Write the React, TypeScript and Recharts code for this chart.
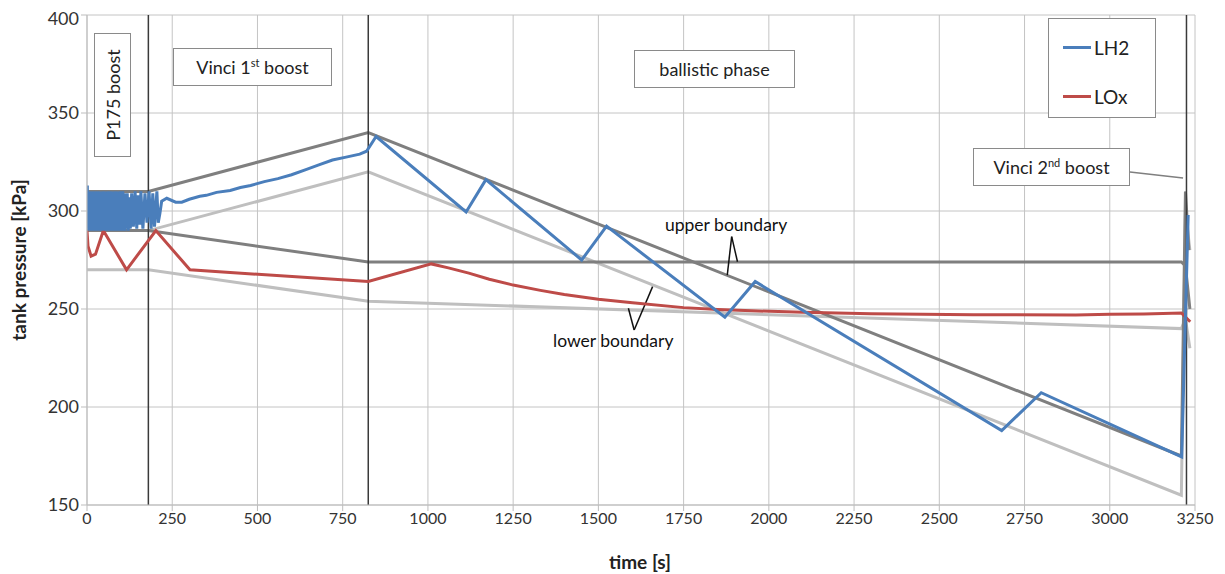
import React from "react";
import { LineChart, Line, XAxis, YAxis, CartesianGrid, ReferenceLine } from "recharts";

const xTicks = [0, 250, 500, 750, 1000, 1250, 1500, 1750, 2000, 2250, 2500, 2750, 3000, 3250];
const yTicks = [150, 200, 250, 300, 350, 400];

// [time s, pressure kPa]
const lh2 = [
  [0, 301], [1, 313], [2, 291], [4, 309], [5, 290], [7, 310], [8, 291], [10, 309], [11, 290],
  [13, 310], [14, 291], [16, 309], [17, 290], [19, 310], [20, 291], [22, 308], [23, 290], [25, 310],
  [26, 291], [28, 309], [29, 290], [31, 310], [32, 291], [34, 309], [35, 290], [37, 310], [38, 292],
  [40, 309], [41, 290], [43, 309], [44, 291], [46, 310], [47, 290], [49, 309], [50, 292], [52, 310],
  [53, 290], [55, 308], [56, 291], [58, 309], [59, 290], [61, 310], [62, 291], [64, 309], [65, 290],
  [67, 310], [68, 291], [70, 309], [71, 290], [73, 310], [74, 292], [76, 309], [77, 290], [79, 309],
  [80, 291], [82, 310], [83, 290], [85, 309], [86, 292], [88, 310], [89, 290], [91, 308], [92, 291],
  [94, 309], [95, 290], [97, 310], [99, 291], [101, 309], [103, 290], [105, 310], [107, 292],
  [109, 309], [111, 290], [113, 308], [115, 291], [118, 309], [121, 290], [124, 307], [127, 291],
  [131, 309], [136, 292], [141, 310], [146, 291], [150, 308], [155, 293], [158, 310], [164, 291],
  [170, 309], [176, 294], [182, 310], [188, 291], [193, 309], [198, 292], [205, 310], [209, 294],
  [214, 299], [219, 305], [234, 306.5], [260, 304.5], [278, 304.5], [300, 306], [331, 307.5],
  [350, 308], [380, 309.5], [420, 310.5], [450, 312], [480, 313], [520, 315], [560, 316.5],
  [600, 318.5], [640, 321], [680, 323.5], [720, 326], [760, 327.5], [800, 329], [820, 330.5],
  [848, 338], [1112, 299.5], [1170, 316], [1451, 275], [1524, 292.3], [1871, 245.8], [1960, 264],
  [2683, 188], [2799, 207.3], [3211, 174.5], [3230, 298],
];

const lox = [
  [0, 290], [3, 282], [12, 277], [25, 278], [48, 290], [116, 270], [202, 290], [302, 270],
  [825, 264], [1010, 273], [1060, 271], [1120, 268.3], [1180, 265.2], [1250, 262.2], [1330, 259.5],
  [1400, 257.4], [1500, 255], [1600, 253.2], [1750, 250.7], [1850, 249.8], [1950, 249.1],
  [2100, 248.3], [2300, 247.6], [2600, 247.1], [2900, 247], [3000, 247.3], [3100, 247.5],
  [3210, 248], [3236, 243.5],
];

const upperLh2 = [[0, 310], [180, 310], [825, 340], [3210, 175], [3222, 310], [3232, 280]];
const lowerLh2 = [[0, 290], [180, 290], [825, 320], [3210, 155], [3222, 300], [3235, 280]];
const upperLox = [[0, 290], [180, 290], [825, 274], [3210, 274], [3222, 272], [3235, 250]];
const lowerLox = [[0, 270], [180, 270], [825, 254], [3210, 240], [3222, 245], [3235, 230]];

const phaseLines = [180, 825, 3225];

// annotation leader segments [[t1,p1],[t2,p2]]
const leaders = [
  [[1891, 286.9], [1878, 267.3]],
  [[1891, 286.9], [1908, 274.1]],
  [[1605, 239.3], [1588, 250.4]],
  [[1605, 239.3], [1659, 261.4]],
  [[3059, 319.9], [3215, 316.8]],
];

const pts = (a: number[][]) => a.map(([t, p]) => ({ t, p }));

const FONT = "Lato, 'Open Sans', sans-serif";

const Box = ({ style, children }: { style: React.CSSProperties; children: React.ReactNode }) => (
  <div
    style={{
      position: "absolute",
      background: "#fff",
      border: "1px solid #8a8a8a",
      display: "flex",
      alignItems: "center",
      justifyContent: "center",
      fontSize: 18,
      color: "#222",
      boxSizing: "border-box",
      ...style,
    }}
  >
    {children}
  </div>
);

export default function App() {
  return (
    <div style={{ position: "relative", width: 1217, height: 566, fontFamily: FONT, background: "#fff" }}>
      <LineChart width={1217} height={566} margin={{ top: 7, right: 30, left: 19, bottom: 29 }}>
        <CartesianGrid stroke="#c4c4c4" />
        <XAxis
          dataKey="t"
          type="number"
          domain={[0, 3250]}
          ticks={xTicks}
          height={40}
          stroke="#bdbdbd"
          tick={{ fill: "#333", fontSize: 16, fontFamily: FONT }}
          tickSize={6}
          allowDataOverflow
        />
        <YAxis
          dataKey="p"
          type="number"
          domain={[150, 400]}
          ticks={yTicks}
          width={60}
          stroke="#bdbdbd"
          tick={{ fill: "#333", fontSize: 18, fontFamily: FONT }}
          tickSize={6}
          allowDataOverflow
        />
        <Line data={pts(lowerLh2)} dataKey="p" stroke="#bfbfbf" strokeWidth={3} dot={false} isAnimationActive={false} />
        <Line data={pts(lowerLox)} dataKey="p" stroke="#bfbfbf" strokeWidth={3} dot={false} isAnimationActive={false} />
        <Line data={pts(upperLh2)} dataKey="p" stroke="#7f7f7f" strokeWidth={3} dot={false} isAnimationActive={false} />
        <Line data={pts(upperLox)} dataKey="p" stroke="#7f7f7f" strokeWidth={3} dot={false} isAnimationActive={false} />
        {phaseLines.map((x) => (
          <ReferenceLine key={x} x={x} stroke="#3a3a3a" strokeWidth={1.5} />
        ))}
        {leaders.map((s, i) => (
          <ReferenceLine
            key={i}
            segment={[{ x: s[0][0], y: s[0][1] }, { x: s[1][0], y: s[1][1] }]}
            stroke={i === 4 ? "#7f7f7f" : "#111"}
            strokeWidth={1.5}
          />
        ))}
        <Line data={pts(lox)} dataKey="p" stroke="#be4b48" strokeWidth={3} dot={false} isAnimationActive={false} />
        <Line data={pts(lh2)} dataKey="p" stroke="#4a7ebb" strokeWidth={3} dot={false} isAnimationActive={false} />
      </LineChart>

      <Box style={{ left: 86, top: 25, width: 37, height: 124 }}>
        <span style={{ transform: "rotate(-90deg)", whiteSpace: "nowrap" }}>P175 boost</span>
      </Box>
      <Box style={{ left: 165, top: 40, width: 159, height: 38 }}>
        <span>
          Vinci 1<sup style={{ fontSize: 11 }}>st</sup> boost
        </span>
      </Box>
      <Box style={{ left: 626, top: 42, width: 161, height: 38 }}>ballistic phase</Box>
      <Box style={{ left: 965, top: 140, width: 157, height: 38 }}>
        <span>
          Vinci 2<sup style={{ fontSize: 11 }}>nd</sup> boost
        </span>
      </Box>

      <div
        style={{
          position: "absolute",
          left: 1040,
          top: 10,
          width: 108,
          height: 100,
          border: "1px solid #8a8a8a",
          background: "#fff",
          boxSizing: "border-box",
          fontSize: 19,
          color: "#222",
        }}
      >
        {[
          { label: "LH2", color: "#4a7ebb", top: 17 },
          { label: "LOx", color: "#be4b48", top: 66 },
        ].map((e) => (
          <div key={e.label} style={{ position: "absolute", left: 14, top: e.top, display: "flex", alignItems: "center" }}>
            <div style={{ width: 28, height: 3, background: e.color, marginRight: 3 }} />
            <span>{e.label}</span>
          </div>
        ))}
      </div>

      <div style={{ position: "absolute", left: 657, top: 206, fontSize: 17.5, color: "#111" }}>upper boundary</div>
      <div style={{ position: "absolute", left: 545, top: 322, fontSize: 17.5, color: "#111" }}>lower boundary</div>

      <div
        style={{
          position: "absolute",
          left: 10,
          top: 252,
          transform: "translate(-50%, -50%) rotate(-90deg)",
          fontSize: 19,
          fontWeight: 700,
          whiteSpace: "nowrap",
          color: "#222",
        }}
      >
        tank pressure [kPa]
      </div>
      <div
        style={{
          position: "absolute",
          left: 632,
          top: 553,
          transform: "translate(-50%, -50%)",
          fontSize: 19,
          fontWeight: 700,
          color: "#222",
        }}
      >
        time [s]
      </div>
    </div>
  );
}
